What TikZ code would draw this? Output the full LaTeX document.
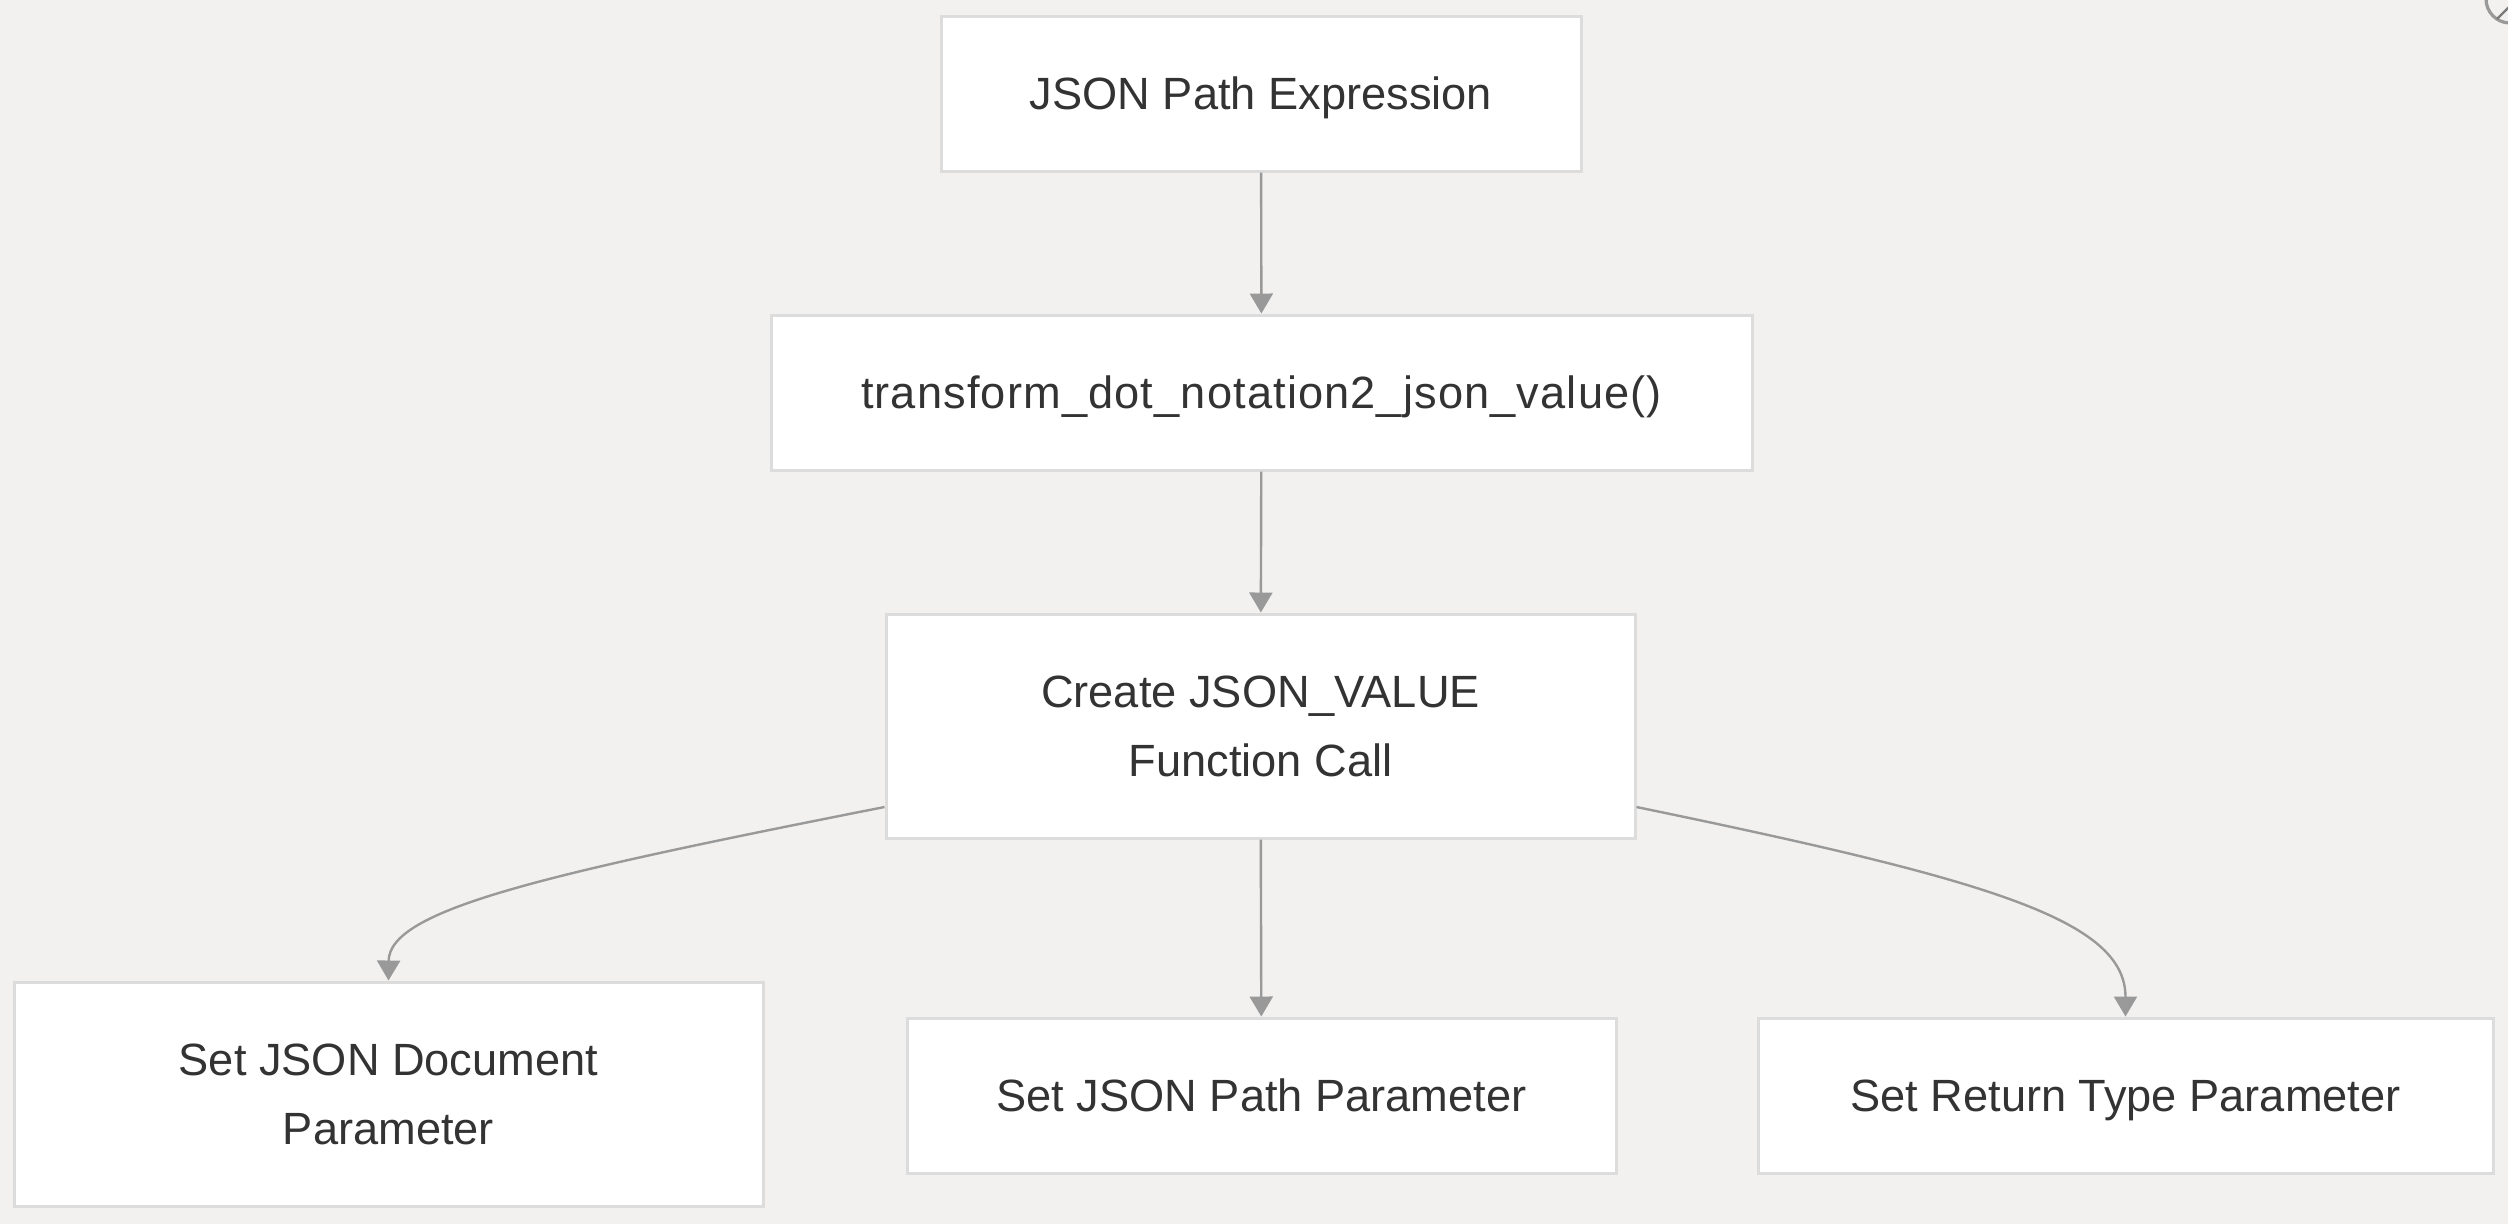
\documentclass[tikz,border=0pt]{standalone}
\usepackage{fontspec}
\setmainfont{Liberation Sans}
\usetikzlibrary{arrows.meta}
\definecolor{bgcol}{HTML}{F2F1F0}
\definecolor{boxline}{HTML}{DCDCDC}
\definecolor{edgecol}{HTML}{999999}
\definecolor{txtcol}{HTML}{333333}
\tikzset{
  flowbox/.style={draw=boxline, line width=0.75pt, fill=white, rectangle,
    minimum height=38.75pt, inner sep=0pt, align=center, text=txtcol,
    text height=10pt, text depth=1.9pt,
    font=\fontsize{11.3}{17.2}\selectfont},
  tallbox/.style={flowbox, minimum height=56pt, text height=27.2pt},
  flowedge/.style={draw=edgecol, line width=0.6pt,
    -{Triangle[length=5pt,width=5.75pt]}},
}
\begin{document}
\begin{tikzpicture}[x=0.25pt,y=-0.25pt]
\fill[bgcol] (0,0) rectangle (2508,1224);
\useasboundingbox (0,0) rectangle (2508,1224);
% corner icon (partially visible)
\begin{scope}
\clip (0,0) rectangle (2508,1224);
\draw[edgecol, line width=0.8pt, rounded corners=6pt] (2530,23) -- (2486,23) -- (2486,-20);
\draw[edgecol!80!black, line width=0.6pt] (2497,19) -- (2512,4);
\end{scope}
\node[flowbox, minimum width=160pt] (A) at (1261,93.5) {JSON Path Expression};
\node[flowbox, minimum width=245.25pt] (B) at (1261.5,392.5) {\addfontfeature{LetterSpace=2.5}transform\_dot\_notation2\_json\_value()};
\node[tallbox, minimum width=187.25pt] (C) at (1260.5,726) {Create JSON\_VALUE\\Function Call};
\node[tallbox, minimum width=187.25pt] (D) at (388.5,1094) {Set JSON Document\\Parameter};
\node[flowbox, minimum width=177.25pt] (E) at (1261.5,1095.5) {Set JSON Path Parameter};
\node[flowbox, minimum width=183.75pt] (F) at (2125.5,1095.5) {Set Return Type Parameter};
\draw[flowedge] (A) -- (B);
\draw[flowedge] (B) -- (C);
\draw[flowedge] (C) -- (E);
\draw[flowedge] ([yshift=-20.25pt]C.west) .. controls (540,875) and (389,910) .. (D.north);
\draw[flowedge] ([yshift=-20.25pt]C.east) .. controls (1990,880) and (2125.5,920) .. (F.north);
\end{tikzpicture}
\end{document}
